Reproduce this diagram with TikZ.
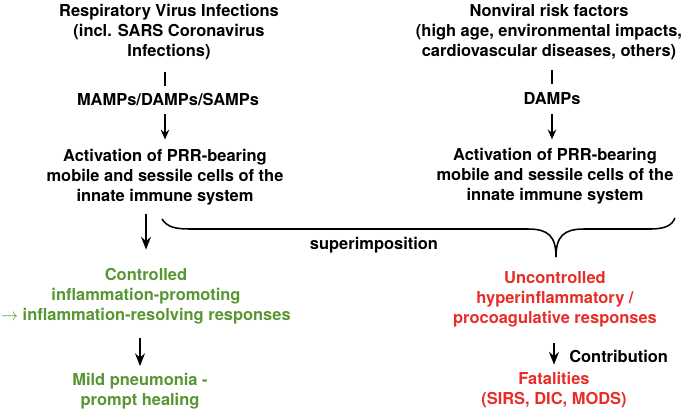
\documentclass[tikz,border=0pt]{standalone}
\usepackage{fontspec}
\setmainfont{TeX Gyre Heros}
\usetikzlibrary{arrows.meta}

\definecolor{calmgreen}{RGB}{88,150,50}
\definecolor{alarmred}{RGB}{232,45,40}

\begin{document}
\begin{tikzpicture}[x=0.025cm, y=-0.025cm,
  txt/.style={align=center, inner sep=0pt, font=\bfseries\fontsize{11.7}{14.2}\selectfont},
  barline/.style={line width=1.8pt},
  smallarr/.style={line width=1.1pt, -{Stealth[length=7pt, width=6pt]}},
  bigarr/.style={line width=1.3pt, -{Stealth[length=9pt, width=7pt]}},
  bracepath/.style={line width=1.1pt}]

\useasboundingbox (0,0) rectangle (685,410);

% Viral side
\node[txt] (virus) at (169,32) {Respiratory Virus Infections\\(incl. SARS Coronavirus\\Infections)};
\node[txt] (mamps) at (168,100) {MAMPs/DAMPs/SAMPs};
\node[txt] (actL) at (165,177) {Activation of PRR-bearing\\mobile and sessile cells of the\\innate immune system};
\node[txt, text=calmgreen] (controlled) at (146,296) {Controlled\\inflammation-promoting\\$\rightarrow$ inflammation-resolving responses};
\node[txt, text=calmgreen] (mild) at (140,391) {Mild pneumonia -\\prompt healing};

\draw[barline, shorten <=8.7pt, shorten >=5.2pt] (virus.south -| actL) -- (mamps.north -| actL);
\draw[smallarr, shorten <=5.2pt, shorten >=6.6pt] (mamps.south -| actL) -- (actL.north);
\draw[bigarr, shorten <=6.6pt, shorten >=13pt] (actL.south -| controlled) -- (controlled.north);
\draw[bigarr, shorten <=9.5pt, shorten >=4.8pt] (controlled.south -| mild) -- (mild.north);

% Nonviral side
\node[txt] (nonviral) at (549,32) {Nonviral risk factors\\(high age, environmental impacts,\\cardiovascular diseases, others)};
\node[txt] (damps) at (552,99) {DAMPs};
\node[txt] (actR) at (555,176) {Activation of PRR-bearing\\mobile and sessile cells of the\\innate immune system};
\node[txt, text=alarmred] (uncontrolled) at (555,299) {Uncontrolled\\hyperinflammatory /\\procoagulative responses};
\node[txt, text=alarmred] (fatal) at (554,390) {Fatalities\\(SIRS, DIC, MODS)};
\node[txt, anchor=west] (contrib) at (569,356) {Contribution};

\draw[barline, shorten <=7.3pt, shorten >=5.9pt] (nonviral.south -| damps) -- (damps.north);
\draw[smallarr, shorten <=6pt, shorten >=6pt] (damps.south) -- (actR.north -| damps);
\draw[bigarr, shorten <=11.6pt, shorten >=5.2pt] (uncontrolled.south -| fatal) -- (fatal.north);

% brace
\draw[bracepath] (162,219) .. controls (167,227) and (175,229) .. (190,229)
  -- (528,229) .. controls (548,229) and (556,236) .. (556,257);
\draw[bracepath] (556,257) .. controls (556,236) and (564,229) .. (584,229)
  -- (650,229) .. controls (666,229) and (672,225) .. (675,218);
\node[txt] (superimp) at (374,245) {superimposition};

\end{tikzpicture}
\end{document}
